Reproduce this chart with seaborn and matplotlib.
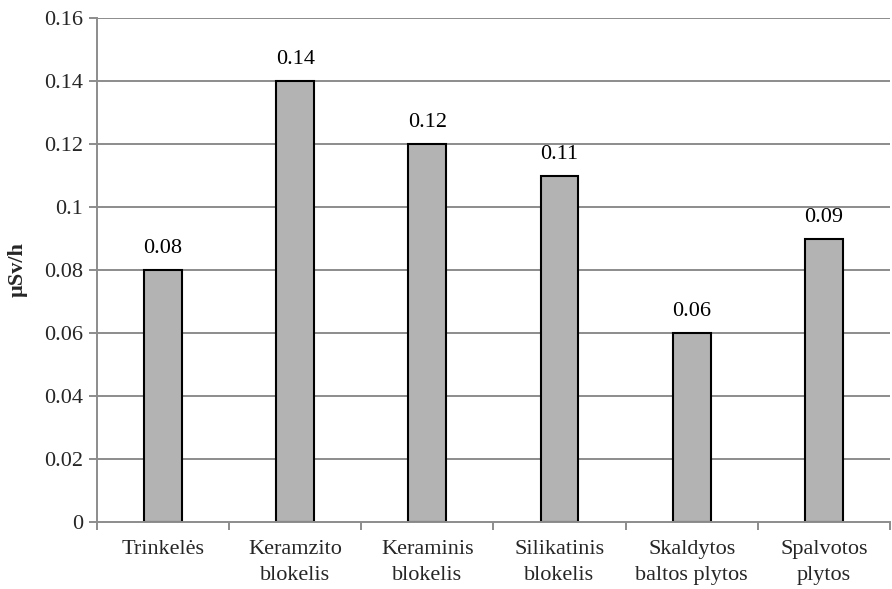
import matplotlib
matplotlib.use("Agg")
import matplotlib.pyplot as plt
from matplotlib.ticker import FixedLocator
import seaborn as sns
import pandas as pd
import numpy as np

categories = ["Trinkelės", "Keramzito\nblokelis", "Keraminis\nblokelis",
              "Silikatinis\nblokelis", "Skaldytos\nbaltos plytos", "Spalvotos\nplytos"]
values = [0.08, 0.14, 0.12, 0.11, 0.06, 0.09]
value_labels = ["0.08", "0.14", "0.12", "0.11", "0.06", "0.09"]
y_ticks = [0, 0.02, 0.04, 0.06, 0.08, 0.1, 0.12, 0.14, 0.16]
y_tick_labels = ["0", "0.02", "0.04", "0.06", "0.08", "0.1", "0.12", "0.14", "0.16"]

sns.set_style("white")
plt.rcParams["font.family"] = ["Liberation Serif", "DejaVu Serif"]

df = pd.DataFrame({"category": categories, "value": values})

fig = plt.figure(figsize=(8.92, 5.89), dpi=100)
ax = fig.add_axes([0.1087, 0.1138, 0.889, 0.8556])

grid_color = "#8c8c8c"
for y in y_ticks[1:]:
    ax.axhline(y, color=grid_color, linewidth=1.4, zorder=0)

sns.barplot(data=df, x="category", y="value", color="#b3b3b3", saturation=1,
            width=0.286, edgecolor="black", linewidth=1.5, ax=ax, zorder=2)

fs = 16
for i, (v, lab) in enumerate(zip(values, value_labels)):
    ax.text(i, v + 0.0038, lab, ha="center", va="bottom", fontsize=fs, color="black")

ax.set_xlim(-0.5, len(categories) - 0.5)
ax.set_ylim(0, 0.16)
ax.set_yticks(y_ticks)
ax.set_yticklabels(y_tick_labels, fontsize=fs)
ax.tick_params(axis="y", which="major", direction="out", length=6, width=1.4,
               color=grid_color, pad=4, left=True)

ax.set_xticks(range(len(categories)))
ax.set_xticklabels(categories, fontsize=fs, linespacing=1.5)
ax.tick_params(axis="x", which="major", length=0, pad=13)
ax.xaxis.set_minor_locator(FixedLocator(np.arange(-0.5, len(categories), 1.0)))
ax.tick_params(axis="x", which="minor", direction="out", length=6, width=1.4,
               color=grid_color, bottom=True)

ax.set_xlabel("")
ax.set_ylabel("µSv/h", fontsize=fs, fontweight="bold", labelpad=12)

for side in ["top", "right"]:
    ax.spines[side].set_visible(False)
for side in ["left", "bottom"]:
    ax.spines[side].set_color(grid_color)
    ax.spines[side].set_linewidth(1.4)

fig.savefig("out.png", dpi=100)
